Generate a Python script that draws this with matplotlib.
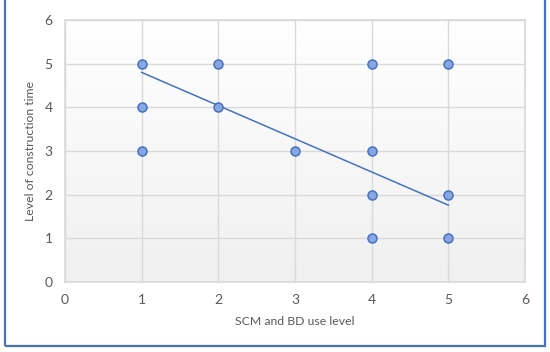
import numpy as np
import matplotlib
matplotlib.use('Agg')
import matplotlib.pyplot as plt
from matplotlib.colors import LinearSegmentedColormap
from matplotlib.patches import Rectangle

plt.rcParams['font.family'] = ['Lato', 'DejaVu Sans']

# data
scm_bd = [1, 1, 1, 2, 2, 3, 4, 4, 4, 4, 5, 5, 5]
constr_time = [5, 4, 3, 5, 4, 3, 5, 3, 2, 1, 5, 2, 1]
trend_x = [1, 5]
trend_y = [4.8, 1.76]
ticks = [0, 1, 2, 3, 4, 5, 6]

blue = '#4472c4'
grid = '#d9d9d9'
txt = '#595959'

fig = plt.figure(figsize=(5.5, 3.52), dpi=100)
ax = fig.add_axes([65/550, 70/352, 460/550, 262/352])

# light gradient background, white at top to grey at bottom
cmap = LinearSegmentedColormap.from_list('bg', ['#f0f0f0', '#ffffff'])
grad = np.linspace(0, 1, 256).reshape(-1, 1)
ax.imshow(grad, cmap=cmap, origin='lower', aspect='auto',
          extent=[0, 6, 0, 6], zorder=0)

ax.plot(trend_x, trend_y, color=blue, lw=1.1, zorder=3)
ax.scatter(scm_bd, constr_time, s=42, facecolor='#8aa6e0',
           edgecolor=blue, linewidth=1.1, zorder=4)

ax.set_xlim(0, 6)
ax.set_ylim(0, 6)
ax.set_xticks(ticks)
ax.set_yticks(ticks)
ax.grid(True, color=grid, lw=1, zorder=1)
ax.set_axisbelow(True)
for s in ax.spines.values():
    s.set_color(grid)
    s.set_linewidth(1.2)
ax.tick_params(length=0, labelsize=10, colors=txt, pad=9)

ax.set_xlabel('SCM and BD use level', fontsize=8.8, color=txt, labelpad=7)
ax.set_ylabel('Level of construction time', fontsize=8.8, color=txt, labelpad=6)

# blue frame round the chart
fig.patches.append(Rectangle((5/550, 6/352), 540/550, 360/352,
                             transform=fig.transFigure, fill=False,
                             edgecolor=blue, lw=1.6, clip_on=False))

fig.savefig('out.png', dpi=100)
